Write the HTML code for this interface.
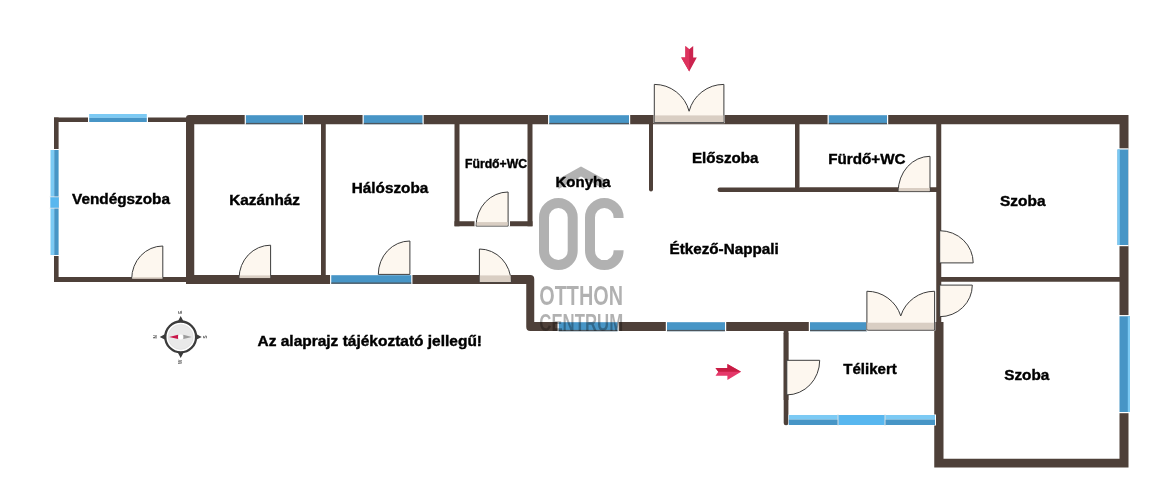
<!DOCTYPE html>
<html><head><meta charset="utf-8"><title>Alaprajz</title>
<style>html,body{margin:0;padding:0;background:#fff}body{width:1163px;height:500px;position:relative;overflow:hidden;font-family:"Liberation Sans",sans-serif}</style></head>
<body>
<svg width="1163" height="500" viewBox="0 0 1163 500" style="position:absolute;left:0;top:0;will-change:transform">
<rect width="1163" height="500" fill="#fff"/>
<rect x="54.00" y="117.50" width="4.60" height="164.50" fill="#4e4039"/>
<rect x="54.00" y="117.50" width="132.50" height="4.50" fill="#4e4039"/>
<rect x="54.00" y="277.00" width="132.50" height="5.00" fill="#4e4039"/>
<rect x="321.00" y="124.00" width="4.75" height="152.00" fill="#4e4039"/>
<rect x="454.50" y="124.00" width="5.00" height="102.25" fill="#4e4039"/>
<rect x="527.50" y="124.00" width="5.00" height="102.25" fill="#4e4039"/>
<rect x="454.50" y="221.25" width="78.00" height="5.00" fill="#4e4039"/>
<rect x="795.00" y="124.00" width="4.50" height="65.00" fill="#4e4039"/>
<rect x="936.25" y="124.00" width="5.00" height="199.00" fill="#4e4039"/>
<rect x="941.00" y="277.00" width="179.00" height="4.75" fill="#4e4039"/>
<rect x="649.00" y="124.00" width="4.00" height="67.50" fill="#4e4039" rx="2"/>
<rect x="649.00" y="124.00" width="4.00" height="26.00" fill="#4e4039"/>
<rect x="717.50" y="187.50" width="223.50" height="4.50" fill="#4e4039" rx="2.2"/>
<rect x="800.00" y="187.50" width="141.00" height="4.50" fill="#4e4039"/>
<rect x="783.70" y="331.00" width="4.70" height="94.20" fill="#4e4039" rx="2.2"/>
<rect x="783.70" y="331.00" width="4.70" height="69.00" fill="#4e4039"/>
<path d="M186 284 V118 a3 3 0 0 1 3 -3 H1128.5 V467.5 H934.25 V331 H530.25 a4 4 0 0 1 -4 -4 V284 Z M194.25 124.25 V275 H530.25 a4 4 0 0 1 4 4 V322 H943.5 V458.75 H1119.5 V124.25 Z" fill="#4e4039" fill-rule="evenodd"/>
<rect x="244.70" y="114.70" width="59.30" height="10.00" fill="#fff"/>
<rect x="245.90" y="115.20" width="56.90" height="9.00" fill="#4795c6"/>
<rect x="245.90" y="122.90" width="56.90" height="1.30" fill="#4e4039" opacity="0.75"/>
<rect x="362.55" y="114.70" width="61.15" height="10.00" fill="#fff"/>
<rect x="363.75" y="115.20" width="58.75" height="9.00" fill="#4795c6"/>
<rect x="363.75" y="122.90" width="58.75" height="1.30" fill="#4e4039" opacity="0.75"/>
<rect x="548.05" y="114.70" width="82.15" height="10.00" fill="#fff"/>
<rect x="549.25" y="115.20" width="79.75" height="9.00" fill="#4795c6"/>
<rect x="549.25" y="122.90" width="79.75" height="1.30" fill="#4e4039" opacity="0.75"/>
<rect x="827.55" y="114.70" width="60.65" height="10.00" fill="#fff"/>
<rect x="828.75" y="115.20" width="58.25" height="9.00" fill="#4795c6"/>
<rect x="828.75" y="122.90" width="58.25" height="1.30" fill="#4e4039" opacity="0.75"/>
<rect x="330.05" y="274.70" width="82.40" height="9.60" fill="#fff"/>
<rect x="331.25" y="275.20" width="80.00" height="8.60" fill="#4795c6"/>
<rect x="331.25" y="282.50" width="80.00" height="1.30" fill="#4e4039" opacity="0.75"/>
<rect x="557.55" y="321.70" width="61.15" height="10.00" fill="#fff"/>
<rect x="558.75" y="322.20" width="58.75" height="9.00" fill="#4795c6"/>
<rect x="558.75" y="329.90" width="58.75" height="1.30" fill="#4e4039" opacity="0.75"/>
<rect x="665.80" y="321.70" width="60.40" height="10.00" fill="#fff"/>
<rect x="667.00" y="322.20" width="58.00" height="9.00" fill="#4795c6"/>
<rect x="667.00" y="329.90" width="58.00" height="1.30" fill="#4e4039" opacity="0.75"/>
<rect x="808.80" y="321.70" width="59.40" height="10.00" fill="#fff"/>
<rect x="810.00" y="322.20" width="57.00" height="9.00" fill="#4795c6"/>
<rect x="810.00" y="329.90" width="57.00" height="1.30" fill="#4e4039" opacity="0.75"/>
<rect x="1117.00" y="148.30" width="11.70" height="97.90" fill="#fff"/>
<rect x="1117.50" y="149.50" width="10.70" height="95.50" fill="#4795c6"/>
<rect x="1117.50" y="149.50" width="2.30" height="95.50" fill="#7ccaf4"/>
<rect x="1119.00" y="315.05" width="11.50" height="98.15" fill="#fff"/>
<rect x="1119.50" y="316.25" width="10.50" height="95.75" fill="#4795c6"/>
<rect x="1127.80" y="316.25" width="2.20" height="95.75" fill="#7ccaf4"/>
<rect x="88.00" y="113.50" width="60.00" height="9.00" fill="#fff"/>
<rect x="89.20" y="114.00" width="57.60" height="3.80" fill="#7ccaf4"/>
<rect x="89.20" y="117.80" width="57.60" height="4.20" fill="#4795c6"/>
<rect x="50.00" y="149.00" width="9.00" height="107.00" fill="#fff"/>
<rect x="50.50" y="150.00" width="3.70" height="105.00" fill="#7ccaf4"/>
<rect x="54.20" y="150.00" width="4.40" height="105.00" fill="#4795c6"/>
<rect x="50.50" y="197.00" width="8.10" height="11.00" fill="#58b7ef"/>
<path d="M49.5 196.8H59.5M49.5 208.2H59.5" stroke="#e8e8e8" stroke-width="0.8"/>
<rect x="788.50" y="414.50" width="147.50" height="11.00" fill="#fff"/>
<rect x="788.75" y="415.00" width="146.25" height="4.50" fill="#7ccaf4"/>
<rect x="788.75" y="419.50" width="146.25" height="5.50" fill="#4795c6"/>
<rect x="838.00" y="415.00" width="47.00" height="10.00" fill="#58b7ef"/>
<path d="M838 414V426M885 414V426" stroke="#e4e4e4" stroke-width="0.9"/>
<path d="M162.8 278.9 L162.8 245.99999999999997 A31.1 32.9 0 0 0 131.70000000000002 278.9 Z" fill="#fdf7ef" stroke="#3c3c3c" stroke-width="1" stroke-linejoin="round"/>
<rect x="132.20" y="277.20" width="30.20" height="1.70" fill="#d9cec3"/>
<rect x="131.50" y="278.90" width="31.70" height="3.10" fill="#4e4039"/>
<path d="M270.6 278.2 L270.6 245.2 A31.5 33 0 0 0 239.10000000000002 278.2 Z" fill="#fdf7ef" stroke="#3c3c3c" stroke-width="1" stroke-linejoin="round"/>
<rect x="239.60" y="275.40" width="30.60" height="2.80" fill="#d9cec3"/>
<rect x="239.00" y="278.20" width="32.00" height="5.80" fill="#4e4039"/>
<path d="M409.9 274.4 L409.9 240.99999999999997 A31.6 33.4 0 0 0 378.29999999999995 274.4 Z" fill="#fdf7ef" stroke="#3c3c3c" stroke-width="1" stroke-linejoin="round"/>
<path d="M479.4 282.5 L479.4 249.0 A31.7 33.5 0 0 1 511.09999999999997 282.5 Z" fill="#fdf7ef" stroke="#3c3c3c" stroke-width="1" stroke-linejoin="round"/>
<rect x="479.80" y="275.40" width="30.90" height="6.70" fill="#d9cec3"/>
<rect x="478.90" y="282.50" width="32.70" height="1.50" fill="#4e4039"/>
<rect x="474.50" y="221.00" width="35.50" height="5.60" fill="#fff"/>
<path d="M508.1 226 L508.1 192 A32 34 0 0 0 476.1 226 Z" fill="#fdf7ef" stroke="#3c3c3c" stroke-width="1" stroke-linejoin="round"/>
<rect x="476.60" y="222.10" width="31.10" height="3.50" fill="#d9cec3"/>
<path d="M930 191.6 L930 156.3 A31.8 35.3 0 0 0 898.2 191.6 Z" fill="#fdf7ef" stroke="#3c3c3c" stroke-width="1" stroke-linejoin="round"/>
<rect x="898.70" y="188.00" width="30.90" height="3.20" fill="#d9cec3"/>
<path d="M939.7 262.9 L973.2 262.9 A33.5 32.2 0 0 0 939.7 230.7 Z" fill="#fdf7ef" stroke="#3c3c3c" stroke-width="1" stroke-linejoin="round"/>
<path d="M939.7 285.1 L972.3000000000001 285.1 A32.6 31.6 0 0 1 939.7 316.70000000000005 Z" fill="#fdf7ef" stroke="#3c3c3c" stroke-width="1" stroke-linejoin="round"/>
<path d="M786.8 360.3 L819.6999999999999 360.3 A32.9 34.6 0 0 1 786.8 394.90000000000003 Z" fill="#fdf7ef" stroke="#3c3c3c" stroke-width="1" stroke-linejoin="round"/>
<rect x="653.50" y="114.70" width="71.20" height="8.50" fill="#fff"/>
<path d="M654.3 122.6 L654.3 84.4 A35.98 35.98 0 0 1 689.0999999999999 111.24105038858409 A35.98 35.98 0 0 1 723.9 84.4 L723.9 122.6 Z" fill="#fdf7ef" stroke="#3c3c3c" stroke-width="1" stroke-linejoin="round"/>
<rect x="654.80" y="115.40" width="68.60" height="6.70" fill="#d9cec3"/>
<rect x="866.10" y="322.00" width="69.30" height="8.60" fill="#fff"/>
<path d="M866.9 330 L866.9 291.25 A35.55 35.55 0 0 1 900.75 315.9381401224285 A35.55 35.55 0 0 1 934.6 291.25 L934.6 330 Z" fill="#fdf7ef" stroke="#3c3c3c" stroke-width="1" stroke-linejoin="round"/>
<rect x="867.40" y="322.70" width="66.70" height="6.80" fill="#d9cec3"/>
<path d="M685.4 46 L689.2 49.2 L693.2 46 V57.6 H696.8 L689.2 71.6 L681.2 57.6 H685.4 Z" fill="#cb234e"/>
<path d="M685.4 46 L689.2 49.2 V71.6 L681.2 57.6 H685.4 Z" fill="#de335e"/>
<path d="M715.5 368 L718.3 371.8 L715.5 375.7 H727.4 V379.9 L741.1 371.8 L727.4 364.1 V368 Z" fill="#e5386a"/>
<path d="M715.5 368 L718.3 371.8 H741.1 L727.4 364.1 V368 Z" fill="#c81c44"/>
<g transform="translate(180.7 336.9)">
<path d="M-3.2 -15 L0 -21 L3.2 -15 Z M-3.2 15 L0 21 L3.2 15 Z M-15 -3.2 L-21 0 L-15 3.2 Z M15 -3.2 L21 0 L15 3.2 Z" fill="#3b3b3b"/>
<circle r="15.4" fill="#fff" stroke="#3b3b3b" stroke-width="2.3"/>
<circle r="12.5" fill="#e9e9e9" stroke="#d6d6d6" stroke-width="0.5"/>
<path d="M-11.6 0 L-2.6 -2.2 V2.2 Z" fill="#c8174a"/>
<path d="M11.2 0 L2.6 -2.2 V2.2 Z" fill="#9c9c9c"/>
<circle r="2.5" fill="#fff"/>
<g font-family="Liberation Sans, sans-serif" font-weight="bold" font-size="4.6" fill="#555" text-anchor="middle">
<text transform="translate(0 -24.6) rotate(-90)" y="1.6">E</text>
<text transform="translate(-25 0) rotate(-90)" y="1.6">N</text>
<text transform="translate(24.3 0) rotate(-90)" y="1.6">S</text>
<text transform="translate(0 25) rotate(-90)" y="1.6">W</text>
</g></g>
<path d="M558.5 178.9 L580 167 Q581 166.2 582 167 L604.4 179.3 V189.3 L581 176.6 L558.5 188.9 Z" fill="#000" fill-opacity="0.3"/>
<g font-family="Liberation Sans, sans-serif" font-weight="bold" fill="#000" stroke="#000" stroke-width="0.4">
<text x="72" y="203.75" font-size="15.3" textLength="98.00" lengthAdjust="spacingAndGlyphs">Vendégszoba</text>
<text x="229.25" y="205" font-size="15.3" textLength="70.75" lengthAdjust="spacingAndGlyphs">Kazánház</text>
<text x="351.75" y="193" font-size="15.3" textLength="76.50" lengthAdjust="spacingAndGlyphs">Hálószoba</text>
<text x="465" y="168" font-size="12.3" textLength="62.00" lengthAdjust="spacingAndGlyphs">Fürdő+WC</text>
<text x="555.5" y="186.75" font-size="15.3" textLength="55.00" lengthAdjust="spacingAndGlyphs">Konyha</text>
<text x="692" y="162.5" font-size="15.3" textLength="66.50" lengthAdjust="spacingAndGlyphs">Előszoba</text>
<text x="828.25" y="163.75" font-size="15.3" textLength="77.25" lengthAdjust="spacingAndGlyphs">Fürdő+WC</text>
<text x="669.5" y="253.75" font-size="15.3" textLength="109.25" lengthAdjust="spacingAndGlyphs">Étkező-Nappali</text>
<text x="1000" y="206.25" font-size="15.3" textLength="45.50" lengthAdjust="spacingAndGlyphs">Szoba</text>
<text x="1004.25" y="379.5" font-size="15.3" textLength="45.00" lengthAdjust="spacingAndGlyphs">Szoba</text>
<text x="843.25" y="373.75" font-size="15.3" textLength="53.50" lengthAdjust="spacingAndGlyphs">Télikert</text>
<text x="257.5" y="345.7" font-size="15.3" textLength="224.50" lengthAdjust="spacingAndGlyphs">Az alaprajz tájékoztató jellegű!</text>
</g>
<g opacity="0.3" fill="none" stroke="#000">
<rect x="544" y="203.1" width="28.7" height="62" rx="14.35" stroke-width="10"/>
<path d="M618.6 217.9 V217.4 A14.3 14.3 0 0 0 590 217.4 V250.8 A14.3 14.3 0 0 0 618.6 250.8 V250.3" stroke-width="10"/>
</g>
<g opacity="0.3" fill="#000" font-family="Liberation Sans, sans-serif" font-weight="bold">
<text x="539.3" y="305.1" font-size="27" textLength="83.8" lengthAdjust="spacingAndGlyphs">OTTHON</text>
<text x="539.3" y="331" font-size="23" textLength="83.8" lengthAdjust="spacingAndGlyphs">CENTRUM</text>
</g>
</svg>
</body></html>
